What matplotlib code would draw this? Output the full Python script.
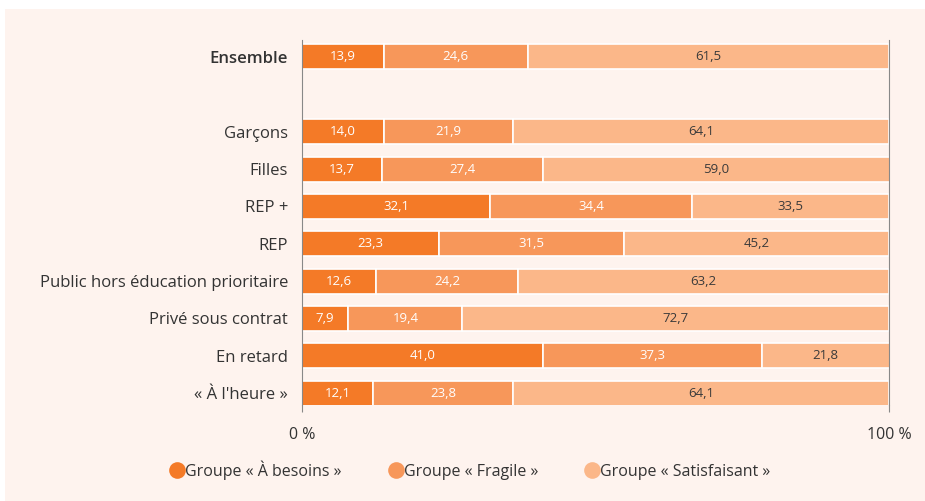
import matplotlib.pyplot as plt
import matplotlib.patches as mpatches
from matplotlib.lines import Line2D
import numpy as np

plt.rcParams['font.family'] = ['Open Sans', 'DejaVu Sans']

categories = ['Ensemble', '', 'Garçons', 'Filles', 'REP +', 'REP',
              'Public hors éducation prioritaire', 'Privé sous contrat',
              'En retard', '« À l\'heure »']
besoins = [13.9, None, 14.0, 13.7, 32.1, 23.3, 12.6, 7.9, 41.0, 12.1]
fragile = [24.6, None, 21.9, 27.4, 34.4, 31.5, 24.2, 19.4, 37.3, 23.8]
satisf = [61.5, None, 64.1, 59.0, 33.5, 45.2, 63.2, 72.7, 21.8, 64.1]
series_names = ['Groupe « À besoins »', 'Groupe « Fragile »', 'Groupe « Satisfaisant »']
colors = ['#F47A27', '#F7975A', '#FBB789']
text_colors = ['white', 'white', '#3a3a3a']
bg = '#FEF3EE'

fig = plt.figure(figsize=(9.25, 5.01), dpi=100)
fig.patch.set_facecolor('white')
fig.patches.append(mpatches.Rectangle((5 / 925, 0), 1, 1 - 9 / 501, transform=fig.transFigure,
                                      facecolor=bg, edgecolor='none', zorder=-10))
ax = fig.add_axes([302 / 925, 96 / 501, 587 / 925, 365 / 501])
ax.set_facecolor('none')

y = np.arange(len(categories))
for i in range(len(categories)):
    if besoins[i] is None:
        continue
    left = 0
    for j, vals in enumerate([besoins, fragile, satisf]):
        v = vals[i]
        ax.barh(y[i], v, left=left, height=0.67, color=colors[j], edgecolor='white', linewidth=1.2)
        ax.text(left + v / 2, y[i], f'{v:.1f}'.replace('.', ','), ha='center', va='center',
                fontsize=9.5, color=text_colors[j])
        left += v

ax.set_xlim(0, 100)
ax.set_ylim(9.32, -0.455)
ax.set_yticks(y)
ax.set_yticklabels(categories, fontsize=12, color='#333333')
ax.get_yticklabels()[0].set_fontweight('semibold')
ax.tick_params(axis='y', length=0, pad=10)
ax.set_xticks([0, 100])
ax.set_xticklabels(['0 %', '100 %'], fontsize=11.5, color='#333333')
ax.tick_params(axis='x', length=5, color='#888888', pad=11)
for s in ['top', 'bottom']:
    ax.spines[s].set_visible(False)
for s in ['left', 'right']:
    ax.spines[s].set_color('#888888')
    ax.spines[s].set_linewidth(0.8)

handles = [Line2D([], [], marker='o', linestyle='none', markersize=12, markerfacecolor=c,
                  markeredgecolor='none') for c in colors]
fig.legend(handles, series_names, loc='center', bbox_to_anchor=(0.507, 0.062), ncol=3,
           frameon=False, fontsize=11.5, handletextpad=-0.1, handlelength=1.2, columnspacing=2.8,
           labelcolor='#333333')

fig.savefig('out.png', dpi=100, facecolor=fig.get_facecolor())
